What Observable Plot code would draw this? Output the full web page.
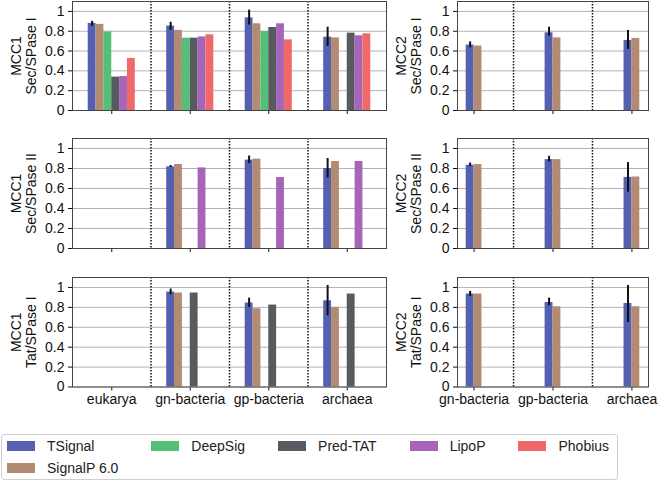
<!DOCTYPE html>
<html><head><meta charset="utf-8">
<script src="https://cdn.jsdelivr.net/npm/d3@7"></script>
<script src="https://cdn.jsdelivr.net/npm/@observablehq/plot@0.6"></script>
<style>
body{margin:0;background:#fff;}
#root{position:relative;width:658px;height:481px;overflow:hidden;font-family:"Liberation Sans",Arial,sans-serif;}
.panel{position:absolute;}
#legend{position:absolute;left:1px;top:434px;width:617px;height:46px;border:1px solid #cfcfcf;border-radius:3px;box-sizing:border-box;display:grid;grid-template-rows:22px 22px;justify-content:start;align-content:center;column-gap:33px;padding-left:5px;font-size:14px;color:#222;}
.item{display:flex;align-items:center;white-space:nowrap;}
.sw{width:28px;height:10px;margin-right:12px;}
</style></head><body><div id="root"></div>
<script>
const categoriesLeft = ["eukarya", "gn-bacteria", "gp-bacteria", "archaea"];
const categoriesRight = ["gn-bacteria", "gp-bacteria", "archaea"];
const models = ["TSignal", "SignalP 6.0", "DeepSig", "Pred-TAT", "LipoP", "Phobius"];
const modelColors = ["#5561b0", "#b38a72", "#55bf78", "#575b60", "#a765b9", "#f06868"];
const yTicks = [0, 0.2, 0.4, 0.6, 0.8, 1];

// rows follow `models`; columns follow the panel's categories (null = no bar)
const mcc1SecI = [
  [0.879, 0.852, 0.935, 0.740],
  [0.869, 0.808, 0.875, 0.733],
  [0.794, 0.730, 0.798, null],
  [0.337, 0.730, 0.838, 0.781],
  [0.343, 0.743, 0.875, 0.754],
  [0.525, 0.764, 0.713, 0.774]
];
const mcc1SecI_err = [[0.85, 0.90], [0.81, 0.89], [0.862, 1.013], [0.646, 0.841]];

const mcc1SecII = [
  [null, 0.817, 0.884, 0.800],
  [null, 0.840, 0.894, 0.870],
  [null, null, null, null],
  [null, null, null, null],
  [null, 0.806, 0.710, 0.870],
  [null, null, null, null]
];
const mcc1SecII_err = [null, [0.81, 0.83], [0.85, 0.925], [0.705, 0.90]];

const mcc1TatI = [
  [null, 0.954, 0.843, 0.866],
  [null, 0.944, 0.786, 0.800],
  [null, null, null, null],
  [null, 0.944, 0.823, 0.934],
  [null, null, null, null],
  [null, null, null, null]
];
const mcc1TatI_err = [null, [0.926, 0.984], [0.80, 0.893], [0.715, 1.02]];

const mcc2SecI = [
  [0.660, 0.784, 0.707],
  [0.650, 0.733, 0.727]
];
const mcc2SecI_err = [[0.632, 0.693], [0.75, 0.841], [0.616, 0.808]];

const mcc2SecII = [
  [0.832, 0.889, 0.711],
  [0.839, 0.889, 0.715]
];
const mcc2SecII_err = [[0.82, 0.855], [0.865, 0.922], [0.563, 0.859]];

const mcc2TatI = [
  [0.934, 0.849, 0.839],
  [0.934, 0.806, 0.806]
];
const mcc2TatI_err = [[0.91, 0.96], [0.816, 0.893], [0.648, 1.02]];

const BW = 0.1;

function panel({cats, values, errs, label, showX, xDomain, slots, left, top, width, mLeft, mRight, plotH}) {
  const bars = [];
  values.forEach((row, m) => row.forEach((v, c) => {
    if (v != null) bars.push({model: models[m], value: v, x1: c + (m - slots / 2) * BW, x2: c + (m - slots / 2 + 1) * BW});
  }));
  const errData = [];
  errs.forEach((e, c) => { if (e) errData.push({x: c + (0.5 - slots / 2) * BW, lo: e[0], hi: e[1]}); });
  const dividers = cats.slice(1).map((_, i) => i + 0.5);
  const mTop = 10, mBottom = showX ? 40 : 30;
  const svg = Plot.plot({
    width, height: plotH + mTop + mBottom,
    marginLeft: mLeft, marginRight: mRight, marginTop: mTop, marginBottom: mBottom,
    style: {fontFamily: '"Liberation Sans", Arial, sans-serif', fontSize: "14px", background: "transparent", overflow: "visible", color: "#111"},
    x: {domain: xDomain, ticks: cats.map((_, i) => i), tickFormat: showX ? (i => cats[i]) : (() => ""), tickSize: 4, tickPadding: 3, label: null},
    y: {domain: [0, 1.1], ticks: yTicks, tickFormat: d3.format("~g"), tickSize: 4, tickPadding: 4, label: null},
    color: {domain: models, range: modelColors},
    marks: [
      Plot.ruleY(yTicks, {stroke: "#b3b3b3", strokeWidth: 1}),
      Plot.rect(bars, {x1: "x1", x2: "x2", y1: 0, y2: "value", fill: "model"}),
      Plot.ruleX(errData, {x: "x", y1: "lo", y2: "hi", stroke: "#111", strokeWidth: 2}),
      Plot.ruleX(dividers, {stroke: "#111", strokeWidth: 1.5, strokeDasharray: "1.5,1.5"}),
      Plot.frame({stroke: "#444"}),
      Plot.text([label], {text: d => d, frameAnchor: "left", textAnchor: "middle", lineAnchor: "middle", rotate: -90, dx: -49, fontSize: 14, lineHeight: 1.1, fill: "#111"})
    ]
  });
  svg.classList.add("panel");
  svg.style.left = left + "px";
  svg.style.top = (top - mTop) + "px";
  document.getElementById("root").appendChild(svg);
}

const rowTops = [0.5, 137.5, 276.5];
const plotHeights = [109, 110, 109.5];
const leftCol = {cats: categoriesLeft, xDomain: [-0.5, 3.5], slots: 6, left: 0, width: 390, mLeft: 72, mRight: 4};
const rightCol = {cats: categoriesRight, xDomain: [-0.21, 2.21], slots: 2, left: 390, width: 268, mLeft: 67, mRight: 10};

panel({...leftCol, values: mcc1SecI, errs: mcc1SecI_err, label: "MCC1\nSec/SPase I", showX: false, top: rowTops[0], plotH: plotHeights[0]});
panel({...leftCol, values: mcc1SecII, errs: mcc1SecII_err, label: "MCC1\nSec/SPase II", showX: false, top: rowTops[1], plotH: plotHeights[1]});
panel({...leftCol, values: mcc1TatI, errs: mcc1TatI_err, label: "MCC1\nTat/SPase I", showX: true, top: rowTops[2], plotH: plotHeights[2]});
panel({...rightCol, values: mcc2SecI, errs: mcc2SecI_err, label: "MCC2\nSec/SPase I", showX: false, top: rowTops[0], plotH: plotHeights[0]});
panel({...rightCol, values: mcc2SecII, errs: mcc2SecII_err, label: "MCC2\nSec/SPase II", showX: false, top: rowTops[1], plotH: plotHeights[1]});
panel({...rightCol, values: mcc2TatI, errs: mcc2TatI_err, label: "MCC2\nTat/SPase I", showX: true, top: rowTops[2], plotH: plotHeights[2]});

// legend: 5 columns, filled column by column (first n % ncol columns get the extra row)
const legend = document.createElement("div");
legend.id = "legend";
const ncol = 5;
const nrows = Math.ceil(models.length / ncol);
const extra = models.length % ncol;
let idx = 0;
for (let c = 0; c < ncol; c++) {
  const count = c < extra ? nrows : nrows - 1;
  for (let r = 0; r < count; r++, idx++) {
    const it = document.createElement("div");
    it.className = "item";
    it.style.gridColumn = String(c + 1);
    it.style.gridRow = String(r + 1);
    const sw = document.createElement("span");
    sw.className = "sw";
    sw.style.background = modelColors[idx];
    const tx = document.createElement("span");
    tx.textContent = models[idx];
    it.appendChild(sw); it.appendChild(tx);
    legend.appendChild(it);
  }
}
document.getElementById("root").appendChild(legend);
</script>
</body></html>
